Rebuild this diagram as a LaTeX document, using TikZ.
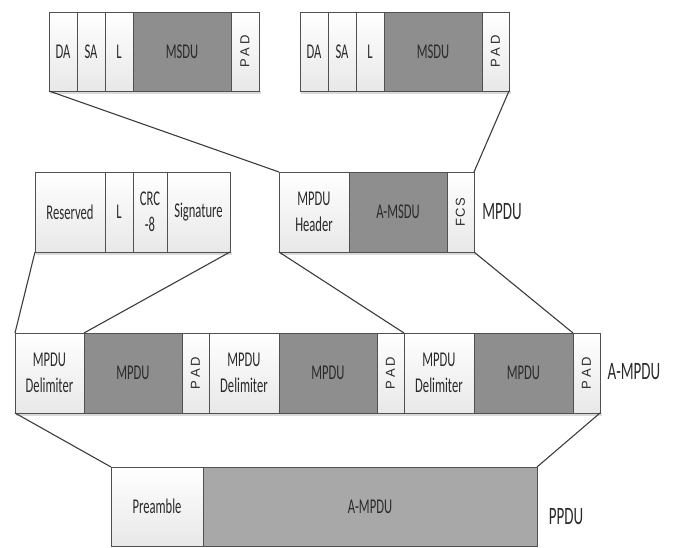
\documentclass[tikz,border=0pt]{standalone}
\usepackage{fontspec}
\setmainfont[FakeStretch=0.6]{Carlito}
\newfontfamily\rotfont{Liberation Sans}
\definecolor{edge}{HTML}{505050}
\definecolor{dark}{HTML}{8E8E8E}
\definecolor{mid}{HTML}{A8A8A8}
\definecolor{txt}{HTML}{2A2A2A}
\definecolor{lite}{HTML}{E8E8E8}
\definecolor{conncol}{HTML}{3C3C3C}
\definecolor{shad}{HTML}{DADADA}
\begin{document}
\begin{tikzpicture}[x=1pt,y=-1pt,
  cell/.style={draw=edge, line width=0.8pt, inner sep=0pt, outer sep=0pt, anchor=north west,
    text=txt, font=\fontsize{21}{26}\selectfont, align=center},
  lite/.style={cell, top color=white, bottom color=lite},
  drk/.style={cell, fill=dark},
  mdk/.style={cell, fill=mid},
  rot/.style={rotate=90, inner sep=0pt, text=txt, font=\rotfont\fontsize{13}{13}\selectfont},
  lab/.style={inner sep=0pt, text=txt, font=\fontsize{25}{25}\selectfont},
  conn/.style={draw=conncol, line width=1.1pt},
  shadowbox/.style={fill=shad}]
\useasboundingbox (0,0) rectangle (675,547);
% shadows
\fill[shadowbox] (50,91) rectangle (261,94);
\fill[shadowbox] (301,91) rectangle (511,94);
\fill[shadowbox] (36,252) rectangle (232,255);
\fill[shadowbox] (280,252) rectangle (476,255);
\fill[shadowbox] (16,413) rectangle (602,416);
% top-left A-MSDU subframe
\node[lite, minimum width=28, minimum height=79] (aDA) at (49,12) {DA};
\node[lite, minimum width=28, minimum height=79] (aSA) at (77,12) {SA};
\node[lite, minimum width=28, minimum height=79] (aL) at (105,12) {L};
\node[drk, minimum width=98, minimum height=79] (aMSDU) at (133,12) {MSDU};
\node[lite, minimum width=28, minimum height=79] (aPAD) at (231,12) {};
\node[rot] (aPADt) at (aPAD.center) {P\kern3pt A\kern3pt D};
% top-right A-MSDU subframe
\node[lite, minimum width=28, minimum height=79] (bDA) at (300,12) {DA};
\node[lite, minimum width=28, minimum height=79] (bSA) at (328,12) {SA};
\node[lite, minimum width=28, minimum height=79] (bL) at (356,12) {L};
\node[drk, minimum width=98, minimum height=79] (bMSDU) at (384,12) {MSDU};
\node[lite, minimum width=27, minimum height=79] (bPAD) at (482,12) {};
\node[rot] (bPADt) at (bPAD.center) {P\kern3pt A\kern3pt D};
% delimiter
\node[lite, minimum width=70, minimum height=80] (dRes) at (35,172) {Reserved};
\node[lite, minimum width=28, minimum height=80] (dL) at (105,172) {L};
\node[lite, minimum width=34, minimum height=80] (dCRC) at (133,172) {CRC\\-8};
\node[lite, minimum width=63, minimum height=80] (dSig) at (167,172) {Signature};
% MPDU
\node[lite, minimum width=70, minimum height=80] (mHdr) at (279,172) {MPDU\\Header};
\node[drk, minimum width=98, minimum height=80] (mAMSDU) at (349,172) {A-MSDU};
\node[lite, minimum width=27, minimum height=80] (mFCS) at (447,172) {};
\node[rot] (mFCSt) at (mFCS.center) {F\kern1.5pt C\kern1.5pt S};
\node[lab] (lMPDU) at (502,212) {MPDU};
% A-MPDU row
\node[lite, minimum width=69, minimum height=80] (r1D) at (15,333) {MPDU\\Delimiter};
\node[drk, minimum width=98, minimum height=80] (r1M) at (84,333) {MPDU};
\node[lite, minimum width=27, minimum height=80] (r1P) at (182,333) {};
\node[rot] (r1Pt) at (r1P.center) {P\kern3pt A\kern3pt D};
\node[lite, minimum width=70, minimum height=80] (r2D) at (209,333) {MPDU\\Delimiter};
\node[drk, minimum width=98, minimum height=80] (r2M) at (279,333) {MPDU};
\node[lite, minimum width=27, minimum height=80] (r2P) at (377,333) {};
\node[rot] (r2Pt) at (r2P.center) {P\kern3pt A\kern3pt D};
\node[lite, minimum width=70, minimum height=80] (r3D) at (404,333) {MPDU\\Delimiter};
\node[drk, minimum width=99, minimum height=80] (r3M) at (474,333) {MPDU};
\node[lite, minimum width=27, minimum height=80] (r3P) at (573,333) {};
\node[rot] (r3Pt) at (r3P.center) {P\kern3pt A\kern3pt D};
\node[lab] (lAMPDU) at (634,372) {A-MPDU};
% PPDU
\node[lite, minimum width=92, minimum height=79] (pPre) at (111,467) {Preamble};
\node[mdk, minimum width=334, minimum height=79] (pA) at (203,467) {A-MPDU};
\node[lab] (lPPDU) at (566,517) {PPDU};
% connectors
\draw[conn] (aDA.south west) -- (mHdr.north west);
\draw[conn] (bPAD.south east) -- (mFCS.north east);
\draw[conn] (dRes.south west) -- (r1D.north west);
\draw[conn] (dSig.south east) -- (r1M.north west);
\draw[conn] (mHdr.south west) -- (r3D.north west);
\draw[conn] (mFCS.south east) -- (r3M.north east);
\draw[conn] (r1D.south west) -- (pPre.north west);
\draw[conn] (r3P.south east) -- (pA.north east);
\end{tikzpicture}
\end{document}
